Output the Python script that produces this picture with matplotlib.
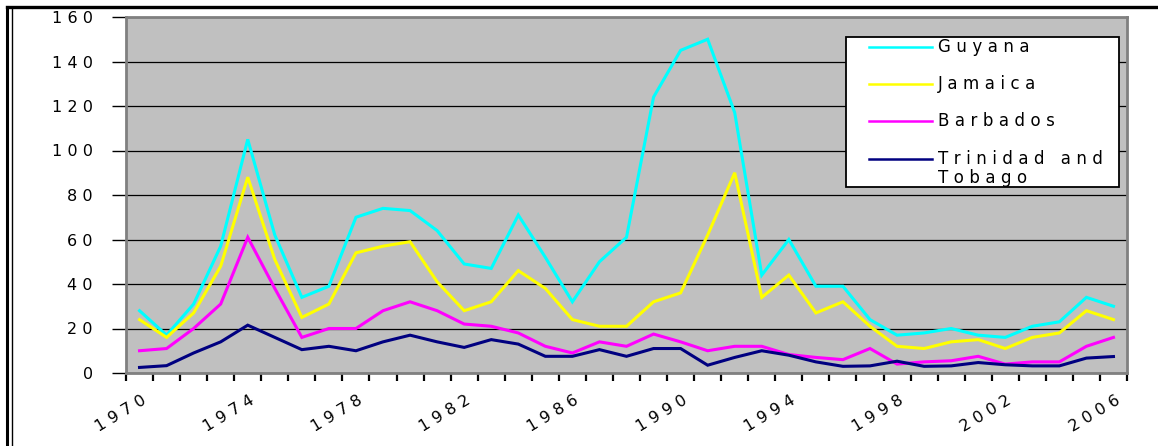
import matplotlib
matplotlib.use("Agg")
import numpy as np
import matplotlib.pyplot as plt
from matplotlib.lines import Line2D
from matplotlib.patches import Rectangle
import matplotlib.transforms as mtransforms

years = list(range(1970, 2007))
guyana = [28, 17, 31, 57, 105, 62, 34, 39, 70, 74, 73, 64, 49, 47, 71, 52, 32, 50, 61,
          124, 145, 150, 117, 44, 60, 39, 39, 24, 17, 18, 20, 17, 16, 21, 23, 34, 30]
jamaica = [24, 16, 27, 48, 88, 51, 25, 31, 54, 57, 59, 41, 28, 32, 46, 38, 24, 21, 21,
           32, 36, 62, 90, 34, 44, 27, 32, 21, 12, 11, 14, 15, 11, 16, 18, 28, 24]
barbados = [10, 11, 20, 31, 61, 38, 16, 20, 20, 28, 32, 28, 22, 21, 18, 12, 9, 14, 12,
            17.5, 14, 10, 12, 12, 8.3, 7, 6, 11, 4, 5, 5.5, 7.5, 4, 5, 5, 12, 16]
trinidad = [2.5, 3.3, 9, 14, 21.5, 16, 10.5, 12, 10, 14, 17, 14, 11.5, 15, 13, 7.5, 7.5, 10.5, 7.5,
            11, 11, 3.5, 7, 10, 8, 5, 3, 3.2, 5.3, 3, 3.2, 4.7, 3.7, 3.2, 3.2, 6.7, 7.4]

names = ["Guyana", "Jamaica", "Barbados", "Trinidad and\nTobago"]
colors = ["#00FFFF", "#FFFF00", "#FF00FF", "#000080"]
series = [guyana, jamaica, barbados, trinidad]

SP = "\u2004"


def spaced(s):
    # widen the text a bit, like the stretched original
    return SP.join(s)


plt.rcParams['font.family'] = ['DejaVu Sans']

fig = plt.figure(figsize=(11.58, 4.46), dpi=100)
ax = fig.add_axes([126 / 1158, 1 - 373 / 446, (1127 - 126) / 1158, (373 - 17) / 446])
ax.set_facecolor("#C0C0C0")

x = np.arange(len(years))
for vals, c in zip(series, colors):
    ax.plot(x, vals, color=c, linewidth=2.2, solid_joinstyle='miter', zorder=3)

ax.set_xlim(-0.5, len(years) - 0.5)
ax.set_ylim(0, 160)
ax.set_yticks(np.arange(0, 161, 20))
ax.set_yticklabels([spaced(str(v)) for v in range(0, 161, 20)], fontsize=11.5)
ax.yaxis.grid(True, color="black", linewidth=0.9)
ax.set_axisbelow(True)
ax.tick_params(axis='y', length=10, width=1, color="black", pad=14)

ax.set_xticks(x[::4])
ax.set_xticklabels([spaced(str(y)) for y in years[::4]], fontsize=11.5,
                   rotation=31, ha='right', va='center', rotation_mode='anchor')
ax.set_xticks(np.arange(len(years) + 1) - 0.5, minor=True)
ax.tick_params(axis='x', which='major', length=0, pad=19)
ax.tick_params(axis='x', which='minor', length=6, width=1.6, color="black")
shift = mtransforms.ScaledTranslation(5 / 100, 0, fig.dpi_scale_trans)
for lab in ax.get_xticklabels():
    lab.set_transform(lab.get_transform() + shift)

for sp in ax.spines.values():
    sp.set_color("#808080")
    sp.set_linewidth(2)

# legend box drawn by hand to follow the original layout
lx0 = (846 - 126) / 1001
lx1 = (1119 - 126) / 1001
ly0 = (373 - 187) / 356
ly1 = (373 - 37) / 356
ax.add_patch(Rectangle((lx0, ly0), lx1 - lx0, ly1 - ly0, transform=ax.transAxes,
                       facecolor="white", edgecolor="black", linewidth=1.3, zorder=5))
entry_y = [47, 84, 121, 159]
for name, c, yy in zip(names, colors, entry_y):
    ya = (373 - yy) / 356
    ax.plot([(869 - 126) / 1001, (932 - 126) / 1001], [ya, ya], transform=ax.transAxes,
            color=c, linewidth=1.8, zorder=6)
    for k, line in enumerate(name.split("\n")):
        ax.text((938 - 126) / 1001, (373 - yy - 19 * k) / 356, spaced(line),
                transform=ax.transAxes, fontsize=12, va='center', ha='left', zorder=6)

# outer frame lines of the original picture
fig.add_artist(Line2D([7 / 1158, 1157 / 1158], [1 - 6.5 / 446] * 2, color="black",
                      linewidth=2.4, transform=fig.transFigure))
fig.add_artist(Line2D([7.5 / 1158] * 2, [0, 1 - 6.5 / 446], color="black",
                      linewidth=2.2, transform=fig.transFigure))
fig.add_artist(Line2D([11.5 / 1158] * 2, [0, 1 - 6.5 / 446], color="black",
                      linewidth=1.0, transform=fig.transFigure))

plt.savefig("out.png", dpi=100, facecolor="white")
